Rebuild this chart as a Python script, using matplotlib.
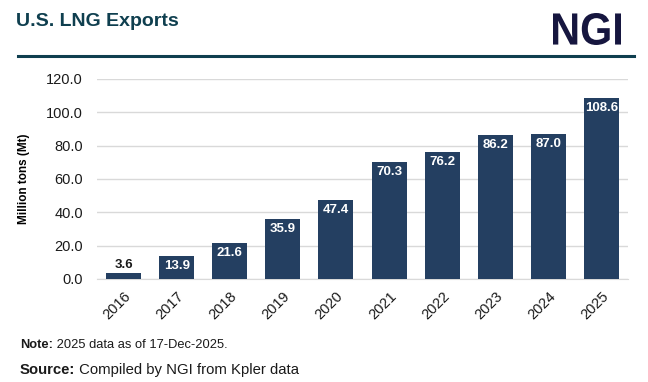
import matplotlib
matplotlib.use("Agg")
from matplotlib import pyplot as plt
from matplotlib.textpath import TextPath
from matplotlib.font_manager import FontProperties
from matplotlib.patches import PathPatch
from matplotlib.transforms import Affine2D, IdentityTransform

# datos
anios = ["2016", "2017", "2018", "2019", "2020", "2021", "2022", "2023", "2024", "2025"]
exportaciones = [3.6, 13.9, 21.6, 35.9, 47.4, 70.3, 76.2, 86.2, 87.0, 108.6]
yticks = [0, 20, 40, 60, 80, 100, 120]

plt.rcParams['font.family'] = ['Liberation Sans', 'DejaVu Sans']

colorBarra = '#243f61'
colorTitulo = '#0f3f4f'
colorTexto = '#1a1a1a'

W, H = 648, 382
fig = plt.figure(figsize=(W/100, H/100), dpi=100)
ax = fig.add_axes([97/W, 1-279/H, 531/W, 200/H])

x = range(len(anios))
ax.bar(x, exportaciones, width=0.66, color=colorBarra, zorder=3)
for i, v in enumerate(exportaciones):
    if v < 8:
        ax.text(i, v + 1.5, f"{v:.1f}", ha='center', va='bottom', fontsize=9.5,
                fontweight='bold', color=colorTexto)
    else:
        ax.text(i, v - 2.5, f"{v:.1f}", ha='center', va='top', fontsize=9.5,
                fontweight='bold', color='white')

ax.set_xlim(-0.5, len(anios) - 0.5)
ax.set_ylim(0, 120)
ax.set_yticks(yticks)
ax.set_yticklabels([f"{t:.1f}" for t in yticks], fontsize=10.5, color=colorTexto)
ax.set_xticks(list(x))
ax.set_xticklabels(anios, rotation=45, fontsize=10.5, color=colorTexto,
                   ha='right', va='top', rotation_mode='anchor')
ax.tick_params(axis='y', length=0, pad=10)
ax.tick_params(axis='x', length=0, pad=7)
ax.grid(axis='y', color='#d9d9d9', linewidth=1, zorder=0)
for s in ['top', 'right', 'left']:
    ax.spines[s].set_visible(False)
ax.spines['bottom'].set_color('#d9d9d9')
ax.set_ylabel("Million tons (Mt)", fontsize=8.5, fontweight='bold', labelpad=12)

# cabecera
fig.text(16/W, 1-21/H, "U.S. LNG Exports", fontsize=14, fontweight='bold',
         color=colorTitulo, ha='left', va='center')
fig.add_artist(plt.Line2D([18/W, 634/W], [1-56/H, 1-56/H],
                          color=colorTitulo, linewidth=2.2))

# logo NGI estrechado con un path
tp = TextPath((0, 0), "NGI", size=40,
              prop=FontProperties(family='Liberation Sans', weight='bold'))
ext = tp.get_extents()
x0, x1, y0, y1 = 553, 621, H-45, H-13
sx = (x1 - x0) / ext.width
sy = (y1 - y0) / ext.height
tr = Affine2D().translate(-ext.x0, -ext.y0).scale(sx, sy).translate(x0, y0)
logo = PathPatch(tr.transform_path(tp), color='#16163f', lw=0,
                 transform=IdentityTransform())
fig.add_artist(logo)

# notas: parte en negrita y resto normal sobre la misma linea base
def nota(y, negrita, resto, tam):
    t = fig.text(20/W, 1-y/H, negrita, fontsize=tam, fontweight='bold',
                 color=colorTexto, ha='left', va='baseline')
    fig.canvas.draw()
    bb = t.get_window_extent()
    fig.text(bb.x1/W, 1-y/H, resto, fontsize=tam, color=colorTexto,
             ha='left', va='baseline')

nota(348, "Note:", " 2025 data as of 17-Dec-2025.", 9.3)
nota(374, "Source:", " Compiled by NGI from Kpler data", 10.7)

fig.savefig("out.png", dpi=100)
